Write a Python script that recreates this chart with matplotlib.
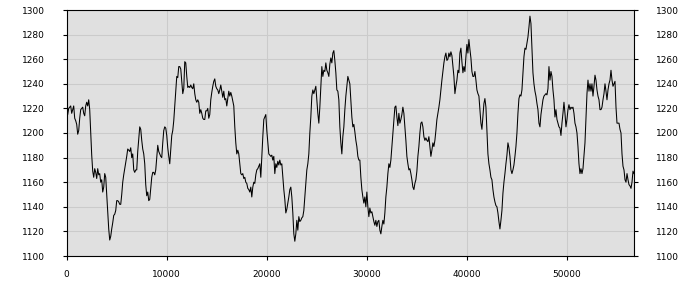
import numpy as np
import matplotlib
matplotlib.use('Agg')
import matplotlib.pyplot as plt

# sampling step of the series (one value every 100 units)
x_step = 100

values = [
    1213, 1215, 1220, 1221, 1222, 1216, 1219, 1222, 1212, 1210, 1207, 1199, 1202, 1212, 1219, 1220,
    1221, 1216, 1214, 1222, 1225, 1222, 1227, 1219, 1201, 1182, 1169, 1164, 1171, 1168, 1163, 1171,
    1166, 1167, 1160, 1162, 1152, 1156, 1167, 1164, 1150, 1135, 1122, 1113, 1116, 1122, 1127, 1133,
    1134, 1137, 1145, 1145, 1144, 1142, 1142, 1150, 1160, 1166, 1171, 1176, 1181, 1187, 1186, 1185,
    1188, 1180, 1183, 1170, 1168, 1170, 1170, 1185, 1195, 1205, 1203, 1194, 1187, 1183, 1175, 1158,
    1149, 1152, 1145, 1146, 1155, 1164, 1168, 1168, 1166, 1170, 1180, 1190, 1185, 1183,
    # 161..
    1181, 1180, 1192, 1202, 1205, 1204, 1198, 1188, 1181, 1175, 1186, 1198, 1202, 1210, 1222, 1234,
    1246, 1245, 1254, 1254, 1252, 1242, 1232, 1236, 1258, 1257, 1246, 1237, 1238, 1237, 1239, 1237,
    1236, 1240, 1232, 1227, 1225, 1227, 1225, 1216, 1219, 1216, 1212, 1211, 1211, 1218, 1218, 1220,
    1212, 1215, 1227, 1233, 1238, 1242, 1244, 1238, 1236, 1235, 1232, 1235, 1239, 1234, 1229, 1234,
    1227, 1228, 1222, 1228, 1234, 1230, 1233, 1230, 1226, 1222, 1205, 1192, 1183, 1186, 1183, 1175,
    1167, 1166, 1167, 1163, 1164, 1160, 1159, 1155, 1154, 1152, 1156, 1148, 1156, 1160, 1159,
    # 256..
    1166, 1170, 1171, 1173, 1175, 1164, 1181, 1197, 1211, 1213, 1215, 1202, 1192, 1183, 1182, 1181,
    1182, 1178, 1181, 1167, 1175, 1172, 1177, 1174, 1178, 1174, 1175, 1164, 1154, 1146, 1135, 1138,
    1143, 1148, 1154, 1156, 1148, 1135, 1118, 1112, 1118, 1129, 1121, 1132, 1128, 1129, 1131, 1132,
    1137, 1148, 1160, 1170, 1175, 1183, 1200, 1213, 1230, 1235, 1232, 1235, 1238, 1227, 1216, 1208,
    1221, 1238, 1254, 1246, 1251, 1250, 1257, 1251, 1249, 1246, 1256, 1261, 1257, 1265, 1267, 1259,
    1249, 1235, 1234, 1227, 1205, 1192, 1183, 1197, 1205, 1219, 1230, 1238, 1246, 1243, 1240,
    # 351..
    1227, 1213, 1205, 1207, 1201, 1194, 1189, 1181, 1178, 1178, 1164, 1154, 1148, 1143, 1148, 1140,
    1152, 1140, 1132, 1139, 1135, 1136, 1132, 1128, 1125, 1129, 1124, 1128, 1129, 1121, 1118, 1124,
    1129, 1126, 1135, 1148, 1156, 1167, 1175, 1172, 1178, 1189, 1200, 1211, 1221, 1222, 1213, 1206,
    1216, 1208, 1211, 1215, 1221, 1216, 1205, 1194, 1181, 1175, 1170, 1171, 1167, 1162, 1156, 1154,
    1159, 1162, 1169, 1181, 1189, 1200, 1208, 1209, 1205, 1197, 1194, 1196, 1194, 1193, 1197, 1189,
    1181, 1186, 1192, 1189, 1194, 1202, 1211, 1216, 1221, 1227, 1235, 1243, 1250, 1257, 1262,
    # 446..
    1265, 1259, 1260, 1265, 1262, 1266, 1263, 1254, 1246, 1232, 1238, 1243, 1251, 1249, 1265, 1269,
    1258, 1249, 1254, 1250, 1262, 1272, 1265, 1276, 1268, 1261, 1250, 1246, 1246, 1250, 1243, 1235,
    1232, 1230, 1219, 1208, 1203, 1213, 1224, 1228, 1221, 1203, 1183, 1175, 1170, 1164, 1162, 1154,
    1148, 1144, 1141, 1140, 1135, 1128, 1122, 1129, 1137, 1151, 1160, 1167, 1175, 1182, 1192, 1188,
    1181, 1170, 1167, 1170, 1174, 1181, 1189, 1200, 1216, 1228, 1231, 1230, 1235, 1249, 1262, 1269,
    1268, 1273, 1278, 1286, 1295, 1289, 1270, 1249, 1240, 1234, 1230, 1224, 1219, 1208, 1205,
    # 541..
    1215, 1221, 1227, 1230, 1231, 1232, 1231, 1236, 1254, 1243, 1250, 1246, 1235, 1227, 1213, 1219,
    1211, 1208, 1205, 1204, 1198, 1208, 1216, 1225, 1216, 1205, 1211, 1219, 1223, 1219, 1221, 1220,
    1221, 1216, 1208, 1205, 1200, 1189, 1175, 1167, 1171, 1167, 1171, 1182, 1192, 1211, 1232, 1243,
    1234, 1240, 1234, 1240, 1230, 1238, 1247, 1243, 1235, 1230, 1227, 1219, 1219, 1221, 1227, 1232,
    1240, 1234, 1227, 1235, 1240, 1243, 1251, 1243, 1238, 1240, 1242, 1221, 1208, 1208, 1208, 1203,
    1200, 1183, 1173, 1170, 1162, 1160, 1167, 1162, 1158, 1157, 1155, 1160, 1169, 1167,
]

y_ticks = [1100, 1120, 1140, 1160, 1180, 1200, 1220, 1240, 1260, 1280, 1300]
x_ticks = [0, 10000, 20000, 30000, 40000, 50000]

xs = np.arange(len(values)) * x_step

fig = plt.figure(figsize=(7, 3), dpi=100)
ax = fig.add_axes([66.7 / 700, 44 / 300, (634 - 66.7) / 700, 246 / 300])
ax.set_facecolor('#e0e0e0')
ax.plot(xs, values, color='black', linewidth=0.75)

ax.set_xlim(0, xs[-1])
ax.set_ylim(1100, 1300)
ax.set_yticks(y_ticks)
ax.set_xticks(x_ticks)
ax.grid(True, color='#cbcbcb', linewidth=0.75)
ax.set_axisbelow(True)

for s in ax.spines.values():
    s.set_color('black')
    s.set_linewidth(0.8)

ax.tick_params(axis='y', which='both', left=True, right=True, labelleft=True, labelright=True,
               direction='out', length=3, width=0.8, labelsize=6.5, pad=13)
ax.tick_params(axis='x', direction='out', length=3, width=0.8, labelsize=6.5, pad=7)

fig.savefig('out.png', dpi=100)
